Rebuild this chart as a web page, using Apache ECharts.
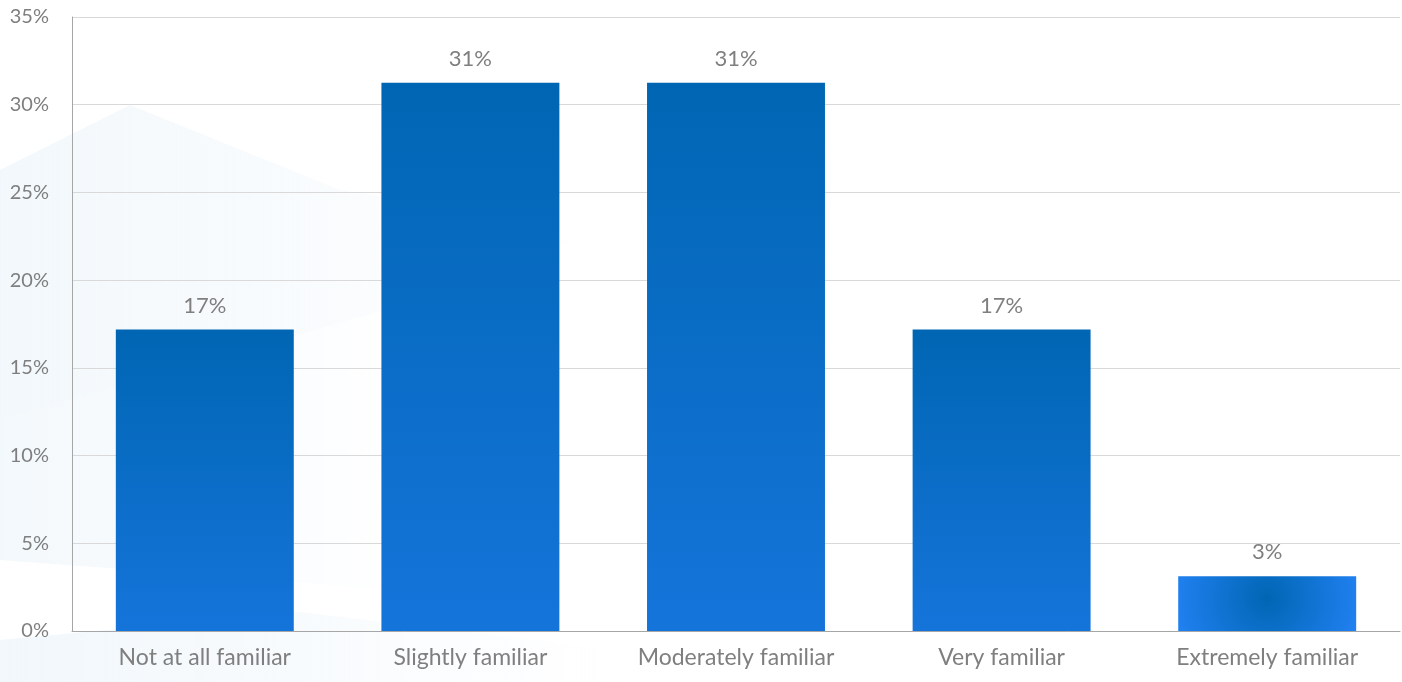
<!DOCTYPE html>
<html><head><meta charset="utf-8">
<script src="https://cdn.jsdelivr.net/npm/echarts@6/dist/echarts.min.js"></script>
<style>html,body{margin:0;padding:0;background:#fff}#c{width:1402px;height:682px}</style>
</head><body><div id="c"></div>
<script>
var categories = ["Not at all familiar","Slightly familiar","Moderately familiar","Very familiar","Extremely familiar"];
var values = [17.19, 31.25, 31.25, 17.19, 3.125];
var yTicks = [0,5,10,15,20,25,30,35];

var linearFill = new echarts.graphic.LinearGradient(0,0,0,1,[{offset:0,color:'#0066b3'},{offset:1,color:'#1574da'}]);
var radialFill = new echarts.graphic.RadialGradient(0.5,0.4,1.8,[{offset:0,color:'#0066b3'},{offset:1,color:'#2282f5'}]);

function fade(a){
  return new echarts.graphic.LinearGradient(0,0,1,0,[{offset:0,color:'rgba(232,242,249,'+a+')'},{offset:1,color:'rgba(232,242,249,0)'}]);
}

var chart = echarts.init(document.getElementById('c'), null, {renderer:'canvas'});
var font = 'Lato, "Open Sans", sans-serif';
chart.setOption({
  animation:false,
  graphic:[
    {type:'polygon', z:-10, silent:true, shape:{points:[[0,170],[130,105],[340,190],[600,230],[420,300],[0,420]]}, style:{fill:fade(0.55)}},
    {type:'polygon', z:-10, silent:true, shape:{points:[[0,420],[420,300],[400,590],[0,560]]}, style:{fill:fade(0.5)}},
    {type:'polygon', z:-10, silent:true, shape:{points:[[0,640],[300,612],[620,650],[620,682],[0,682]]}, style:{fill:fade(0.6)}}
  ],
  grid:{left:72,right:2,top:17,bottom:51,containLabel:false},
  xAxis:{type:'category',data:categories,
    axisLine:{lineStyle:{color:'#a6a6a6',width:1}},axisTick:{show:false},
    axisLabel:{color:'#7f7f7f',fontSize:23,fontFamily:font,margin:15}},
  yAxis:{type:'value',min:yTicks[0],max:yTicks[yTicks.length-1],interval:5,
    axisLine:{show:true,lineStyle:{color:'#a6a6a6'}},axisTick:{show:false},
    splitLine:{lineStyle:{color:'#d9d9d9'}},
    axisLabel:{color:'#7f7f7f',fontSize:20,fontFamily:font,margin:23,formatter:'{value}%'}},
  series:[{type:'bar',barCategoryGap:'33%',
    data:values.map(function(v,i){return {value:v,itemStyle:{color:i===4?radialFill:linearFill}};}),
    label:{show:true,position:'top',distance:13,color:'#7f7f7f',fontSize:22,fontFamily:font,
      formatter:function(p){return Math.round(p.value)+'%';}}
  }]
});
</script></body></html>
